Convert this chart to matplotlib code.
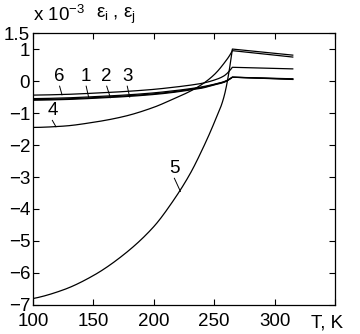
import numpy as np
import matplotlib
matplotlib.use("Agg")
import matplotlib.pyplot as plt

plt.rcParams['font.family'] = ['Liberation Sans', 'DejaVu Sans']
plt.rcParams['mathtext.fontset'] = 'custom'
plt.rcParams['mathtext.rm'] = 'Liberation Sans'
plt.rcParams['mathtext.it'] = 'Liberation Sans'

# temperature grid (K) and strain curves (x 1e-3)
T = [100, 125, 150, 175, 200, 215, 230, 240, 250, 258, 265, 315]

curve_1 = [-0.55, -0.53, -0.49, -0.44, -0.37, -0.31, -0.24, -0.18, -0.10, -0.02, 0.12, 0.07]
curve_2 = [-0.58, -0.56, -0.52, -0.47, -0.40, -0.34, -0.26, -0.20, -0.11, -0.03, 0.12, 0.05]
curve_3 = [-0.60, -0.58, -0.54, -0.49, -0.42, -0.36, -0.28, -0.22, -0.12, -0.04, 0.12, 0.06]
curve_4 = [-1.45, -1.41, -1.29, -1.11, -0.82, -0.58, -0.32, -0.10, 0.20, 0.55, 0.95, 0.75]
curve_5 = [-6.80, -6.53, -6.08, -5.43, -4.55, -3.80, -2.90, -2.15, -1.30, -0.50, 1.00, 0.81]
curve_6 = [-0.44, -0.42, -0.38, -0.33, -0.26, -0.20, -0.13, -0.07, 0.03, 0.16, 0.43, 0.38]

curves = [curve_1, curve_2, curve_3, curve_4, curve_5, curve_6]

x_ticks = [100, 150, 200, 250, 300, 350]
x_labels = ['100', '150', '200', '250', '300', '']
y_ticks = [-7, -6, -5, -4, -3, -2, -1, 0, 1, 1.5]
y_labels = ['\u22127', '\u22126', '\u22125', '\u22124', '\u22123', '\u22122', '\u22121', '0', '1', '1.5']

# curve labels: (name, text position, leader end on the curve)
labels = [
    ('6', (122, -0.12), (124, -0.43)),
    ('1', (144, -0.12), (146, -0.50)),
    ('2', (161, -0.12), (164, -0.52)),
    ('3', (178, -0.12), (180, -0.50)),
    ('4', (116, -1.19), (119, -1.43)),
    ('5', (217, -3.0), (222, -3.45)),
]


def smooth(xs, ys, n=300):
    """Monotone cubic up to the peak, straight line after it."""
    xs = np.asarray(xs, float)
    ys = np.asarray(ys, float)
    k = len(xs) - 1
    xa = np.linspace(xs[0], xs[k - 1], n)
    xr, yr = xs[:k], ys[:k]
    h = np.diff(xr)
    d = np.diff(yr) / h
    m = np.zeros_like(yr)
    m0 = ((2 * h[0] + h[1]) * d[0] - h[0] * d[1]) / (h[0] + h[1])
    m[0] = m0 if m0 * d[0] > 0 else 0
    m[-1] = d[-1] * 1.3
    for i in range(1, len(yr) - 1):
        if d[i - 1] * d[i] <= 0:
            m[i] = 0
        else:
            w1 = 2 * h[i] + h[i - 1]
            w2 = h[i] + 2 * h[i - 1]
            m[i] = (w1 + w2) / (w1 / d[i - 1] + w2 / d[i])
    idx = np.clip(np.searchsorted(xr, xa) - 1, 0, len(xr) - 2)
    t = (xa - xr[idx]) / h[idx]
    h00 = 2 * t**3 - 3 * t**2 + 1
    h10 = t**3 - 2 * t**2 + t
    h01 = -2 * t**3 + 3 * t**2
    h11 = t**3 - t**2
    ya = h00 * yr[idx] + h10 * h[idx] * m[idx] + h01 * yr[idx + 1] + h11 * h[idx] * m[idx + 1]
    return np.append(xa, xs[k]), np.append(ya, ys[k])


fig = plt.figure(figsize=(3.6, 3.34), dpi=100)
ax = fig.add_axes([0.0917, 0.087, 0.839, 0.814])

for c in curves:
    xs, ys = smooth(T, c)
    ax.plot(xs, ys, color='black', lw=0.9)

for name, (tx, ty), (lx, ly) in labels:
    ax.text(tx, ty, name, fontsize=13.5, ha='center', va='bottom')
    ax.plot([tx, lx], [ty - 0.04, ly], color='black', lw=0.7)

ax.set_xlim(100, 350)
ax.set_ylim(-7, 1.5)
ax.set_xticks(x_ticks)
ax.set_xticklabels(x_labels)
ax.set_yticks(y_ticks)
ax.set_yticklabels(y_labels)
ax.tick_params(direction='in', top=True, right=True, length=4, width=0.8,
               labelsize=13.5)
ax.tick_params(axis='x', pad=6)
ax.tick_params(axis='y', pad=2)
for s in ax.spines.values():
    s.set_linewidth(0.9)

ax.text(343, -7.3, 'T, K', fontsize=13.5, ha='center', va='top')
fig.text(0.092, 0.955, r'x 10$^{-3}$', fontsize=13.5, ha='left', va='center')
fig.text(0.268, 0.953, r'$\varepsilon_i$ , $\varepsilon_j$', fontsize=13.5, ha='left', va='center')

fig.savefig('out.png', dpi=100)
